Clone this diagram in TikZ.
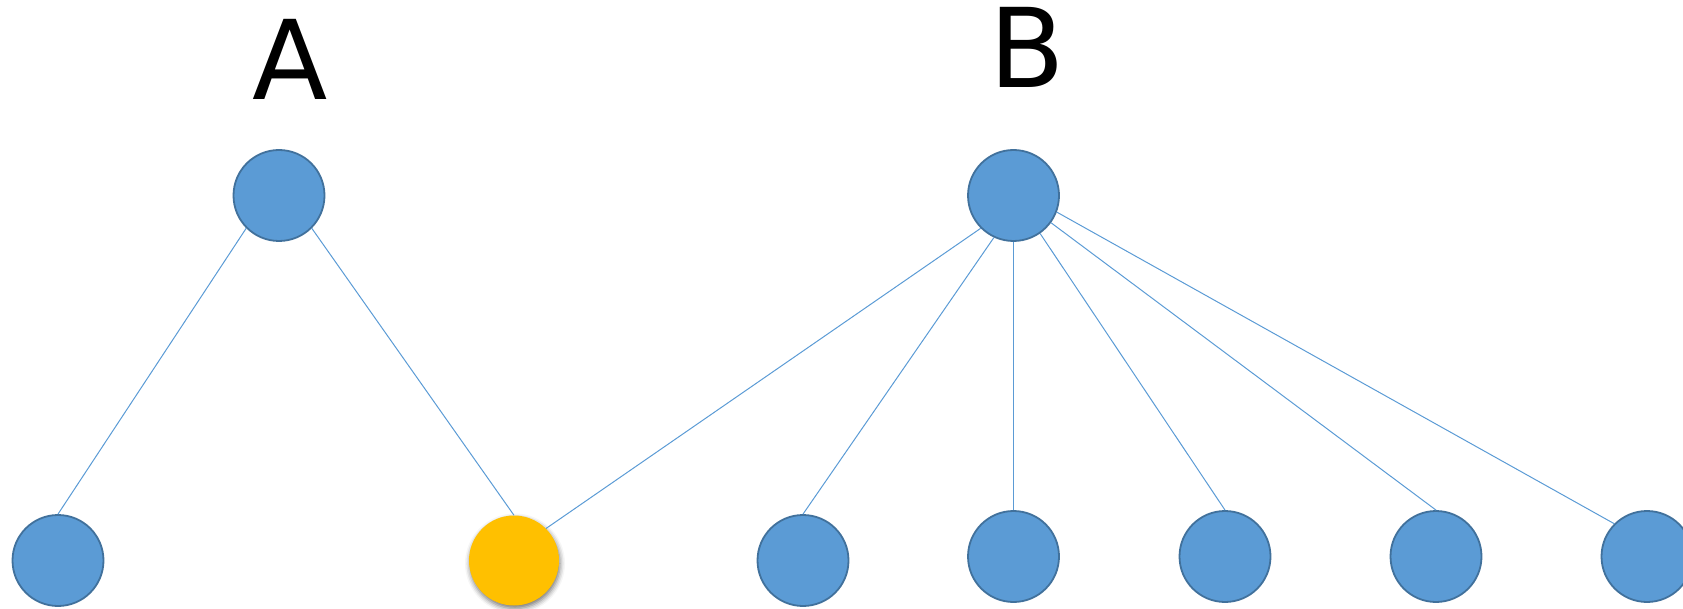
\documentclass[tikz,border=0pt]{standalone}
\usepackage{fontspec}
\setmainfont{DejaVu Sans}
\usetikzlibrary{shadows.blur}
\definecolor{nodeblue}{HTML}{5B9BD5}
\definecolor{nodeedge}{HTML}{41719C}
\definecolor{nodegold}{HTML}{FFC000}
\tikzset{
  vertex/.style={circle, minimum size=91pt, inner sep=0pt, fill=nodeblue, draw=nodeedge, line width=1.8pt},
  hotvertex/.style={circle, minimum size=90pt, inner sep=0pt, fill=nodegold,
    blur shadow={shadow xshift=1pt, shadow yshift=-3pt, shadow blur radius=5pt, shadow opacity=55}},
  link/.style={draw=nodeblue, line width=1pt},
  title/.style={font=\fontsize{110}{110}\selectfont, inner sep=0pt, anchor=base}
}
\begin{document}
\begin{tikzpicture}[x=1pt, y=-1pt]
  \useasboundingbox (0,0) rectangle (1683,609);
  % group labels
  \node[title] (la) at (290,100) {A};
  \node[title] (lb) at (1027,88) {B};
  % parents
  \node[vertex] (A) at (279,195.5) {};
  \node[vertex] (B) at (1013.5,195.5) {};
  % children
  \node[vertex] (c1) at (58,560.5) {};
  \node[hotvertex] (c2) at (514,560.5) {};
  \node[vertex] (c3) at (803,560.5) {};
  \node[vertex] (c4) at (1013.5,556.5) {};
  \node[vertex] (c5) at (1225,556.5) {};
  \node[vertex] (c6) at (1436,556.5) {};
  \node[vertex] (c7) at (1647,556.5) {};
  % connections
  \draw[link] (A.225) -- (c1.north);
  \draw[link] (A.315) -- (c2.north);
  \draw[link] (B.225) -- (c2.45);
  \draw[link] (B.245) -- (c3.north);
  \draw[link] (B.south) -- (c4.north);
  \draw[link] (B.305) -- (c5.north);
  \draw[link] (B.324) -- (c6.north);
  \draw[link] (B.339) -- (c7.135);
\end{tikzpicture}
\end{document}
